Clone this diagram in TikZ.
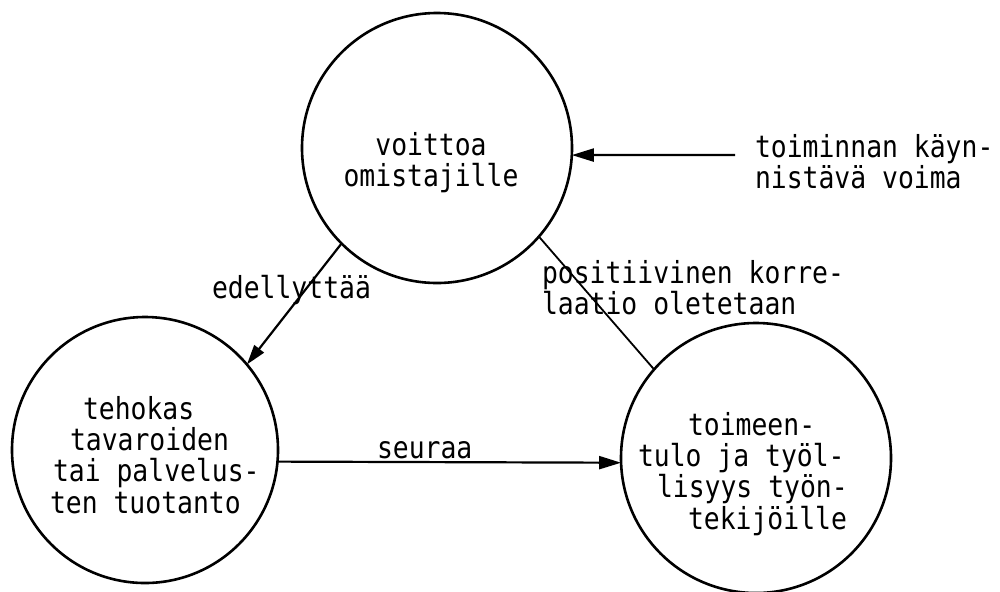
\documentclass[tikz,border=0pt]{standalone}
\usepackage{fontspec}
\usepackage{graphicx}
\newfontfamily\tw{DejaVu Sans Mono}
\newcommand{\tl}[1]{\scalebox{1}[1.15]{#1}}
\usetikzlibrary{arrows.meta}
\tikzset{
  bubble/.style={draw, circle, line width=1.3pt, inner sep=0pt, outer sep=0pt},
  txt/.style={inner sep=0pt, outer sep=0pt, font=\tw\fontsize{13.2pt}{15.6pt}\selectfont},
  conn/.style={line width=1.1pt},
  arr/.style={conn, -{Triangle[length=11pt,width=6.5pt]}},
}
\begin{document}
\begin{tikzpicture}[x=0.5pt,y=-0.5pt]
\useasboundingbox (0,0) rectangle (1000,591);
% circles
\node[bubble, minimum size=135pt] (top) at (437,148) {};
\node[bubble, minimum size=133pt] (left) at (145,450) {};
\node[bubble, minimum size=135pt] (right) at (756,458) {};
% texts in circles
\node[txt, align=center] (ttop) at (431,163) {\tl{voittoa}\\\tl{omistajille}};
\node[txt, align=left, anchor=west] (tleft) at (50,455)
  {\hspace*{16.5pt}\tl{tehokas}\\\hspace*{10pt}\tl{tavaroiden}\\\hspace*{1.5pt}\tl{tai palvelus-}\\\tl{ten tuotanto}};
\node[txt, align=left, anchor=west] (tright) at (638,474)
  {\hspace*{25pt}\tl{toimeen-}\\\tl{tulo ja työl-}\\\hspace*{9.5pt}\tl{lisyys työn-}\\\hspace*{25pt}\tl{tekijöille}};
% outside labels
\node[txt, align=left, anchor=west] (force) at (755,162) {\tl{toiminnan käyn-}\\\tl{nistävä voima}};
\node[txt, align=left, anchor=west] (lpos) at (542,288) {\tl{positiivinen korre-}\\\tl{laatio oletetaan}};
\node[txt, anchor=west] (lede) at (212,290) {\tl{edellyttää}};
\node[txt, anchor=west] (lseu) at (377,450) {\tl{seuraa}};
% connectors
\coordinate (start) at (735,155);
\draw[arr] (start) -- (top.-3);
\draw[arr, -{Triangle[length=10pt,width=6pt]}] (top.225) -- (left.40);
\draw[conn, line width=0.9pt] (top.-41) -- (right.139);
\draw[arr] (left.-5) -- (right.182);
\end{tikzpicture}
\end{document}
